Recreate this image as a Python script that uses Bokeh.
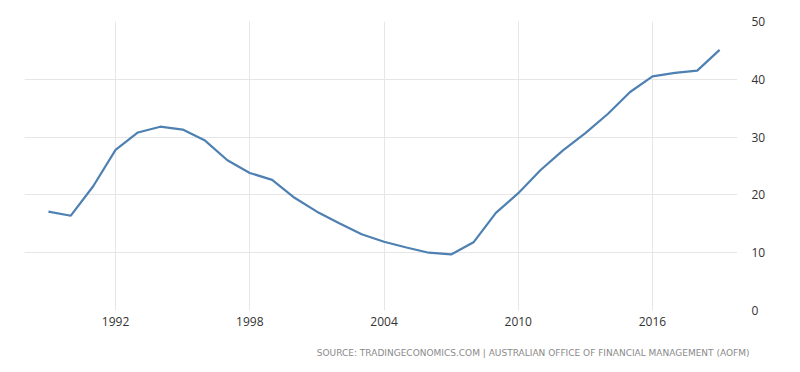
from bokeh.plotting import figure
from bokeh.models import LinearAxis, FixedTicker, Title, Range1d
from bokeh.embed import file_html
from bokeh.resources import INLINE

years = list(range(1989, 2020))
debt = [17.1, 16.4, 21.5, 27.8, 30.8, 31.8, 31.3, 29.4, 26.0, 23.8, 22.6,
        19.5, 17.1, 15.1, 13.2, 11.9, 10.9, 10.0, 9.7, 11.8, 16.9,
        20.3, 24.3, 27.7, 30.7, 34.0, 37.8, 40.5, 41.1, 41.5, 45.1]
x_ticks = [1992, 1998, 2004, 2010, 2016]
y_ticks = [0, 10, 20, 30, 40, 50]
source_text = "SOURCE: TRADINGECONOMICS.COM | AUSTRALIAN OFFICE OF FINANCIAL MANAGEMENT (AOFM)"

p = figure(frame_width=713, frame_height=289, output_backend="svg",
           toolbar_location=None, x_axis_location="below", y_axis_location=None,
           x_range=Range1d(1987.93, 2019.8), y_range=Range1d(0, 50),
           min_border_left=24, min_border_top=21, min_border_right=55,
           min_border_bottom=56)
p.outline_line_color = None
p.background_fill_color = "white"
p.border_fill_color = "white"

p.line(years, debt, line_color="#4e81b2", line_width=2.2)

p.xaxis.ticker = FixedTicker(ticks=x_ticks)
p.xaxis.axis_line_color = None
p.xaxis.major_tick_line_color = None
p.xaxis.minor_tick_line_color = None
p.xaxis.major_label_standoff = 0
p.xaxis.major_label_text_font = "Open Sans"
p.xaxis.major_label_text_font_size = "12px"
p.xaxis.major_label_text_color = "#333333"

yax = LinearAxis(ticker=FixedTicker(ticks=y_ticks))
yax.axis_line_color = None
yax.major_tick_line_color = None
yax.minor_tick_line_color = None
yax.major_label_standoff = 8
yax.major_label_text_font = "Open Sans"
yax.major_label_text_font_size = "12px"
yax.major_label_text_color = "#333333"
p.add_layout(yax, "right")

p.xgrid.ticker = FixedTicker(ticks=x_ticks)
p.xgrid.grid_line_color = "#e6e6e6"
p.ygrid.ticker = FixedTicker(ticks=y_ticks)
p.ygrid.grid_line_color = "#e6e6e6"
p.grid.grid_line_width = 1

src = Title(text=source_text, align="right", text_font="DejaVu Sans",
            text_font_size="9px", text_font_style="normal",
            text_color="#8a8a8a", standoff=34, offset=-12)
p.add_layout(src, "below")

open("out.html", "w").write(file_html(p, INLINE))
